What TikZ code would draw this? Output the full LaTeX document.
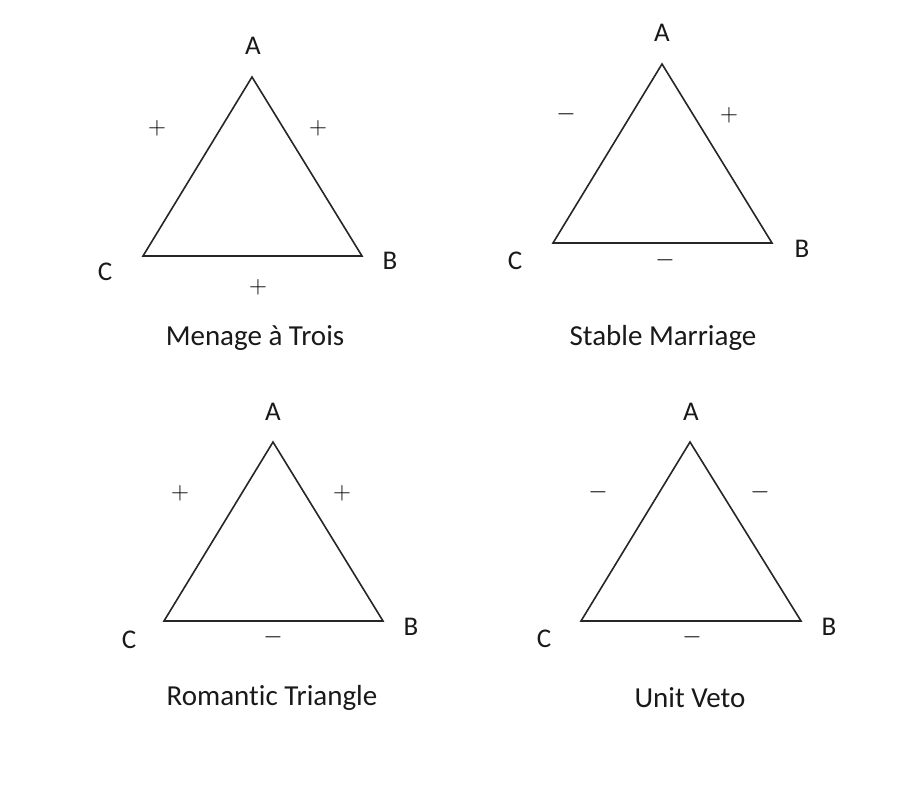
\documentclass[tikz,border=0pt]{standalone}
\usepackage{fontspec}
\setmainfont{Carlito}[Ligatures=NoCommon]
\usetikzlibrary{positioning}

\begin{document}
\begin{tikzpicture}[
x=1pt, y=-1pt,
vertex/.style={font=\fontsize{27}{30}\selectfont, text=black!90, inner sep=0pt},
sign/.style={font=\fontsize{28}{30}\selectfont, text=black, inner sep=0pt},
caption/.style={font=\fontsize{29}{33}\selectfont, text=black!90, inner sep=0pt},
edge/.style={line width=1.6pt, black!85, line join=miter}
]
\useasboundingbox (0,0) rectangle (909,788);

% Menage a Trois
\coordinate (mA) at (252,77);
\coordinate (mB) at (362,256);
\coordinate (mC) at (143,256);
\draw[edge] (mA) -- (mB) -- (mC) -- cycle;
\node[vertex] (mlabA) at (253,46) {A};
\node[vertex] (mlabB) at (390,261) {B};
\node[vertex] (mlabC) at (105,272) {C};
\node[sign] (mAC) at (157,128) {$+$};
\node[sign] (mAB) at (318,128) {$+$};
\node[sign] (mBC) at (258,287) {$+$};
\node[caption] (mname) at (255,338) {Menage à Trois};

% Stable Marriage
\coordinate (sA) at (662,64);
\coordinate (sB) at (772,243);
\coordinate (sC) at (553,243);
\draw[edge] (sA) -- (sB) -- (sC) -- cycle;
\node[vertex] (slabA) at (662,33) {A};
\node[vertex] (slabB) at (802,249) {B};
\node[vertex] (slabC) at (515,261) {C};
\node[sign] (sAC) at (566,114) {$-$};
\node[sign] (sAB) at (729,115) {$+$};
\node[sign] (sBC) at (665,260) {$-$};
\node[caption] (sname) at (663,338) {Stable Marriage};

% Romantic Triangle
\coordinate (rA) at (273,442);
\coordinate (rB) at (383,621);
\coordinate (rC) at (164,621);
\draw[edge] (rA) -- (rB) -- (rC) -- cycle;
\node[vertex] (rlabA) at (273,412) {A};
\node[vertex] (rlabB) at (411,627) {B};
\node[vertex] (rlabC) at (129,640) {C};
\node[sign] (rAC) at (180,493) {$+$};
\node[sign] (rAB) at (342,493) {$+$};
\node[sign] (rBC) at (273,637) {$-$};
\node[caption] (rname) at (272,698) {Romantic Triangle};

% Unit Veto
\coordinate (uA) at (690,442);
\coordinate (uB) at (801,621);
\coordinate (uC) at (581,621);
\draw[edge] (uA) -- (uB) -- (uC) -- cycle;
\node[vertex] (ulabA) at (691,412) {A};
\node[vertex] (ulabB) at (829,627) {B};
\node[vertex] (ulabC) at (544,639) {C};
\node[sign] (uAC) at (598,492) {$-$};
\node[sign] (uAB) at (760,492) {$-$};
\node[sign] (uBC) at (692,637) {$-$};
\node[caption] (uname) at (690,698) {Unit Veto};
\end{tikzpicture}
\end{document}
